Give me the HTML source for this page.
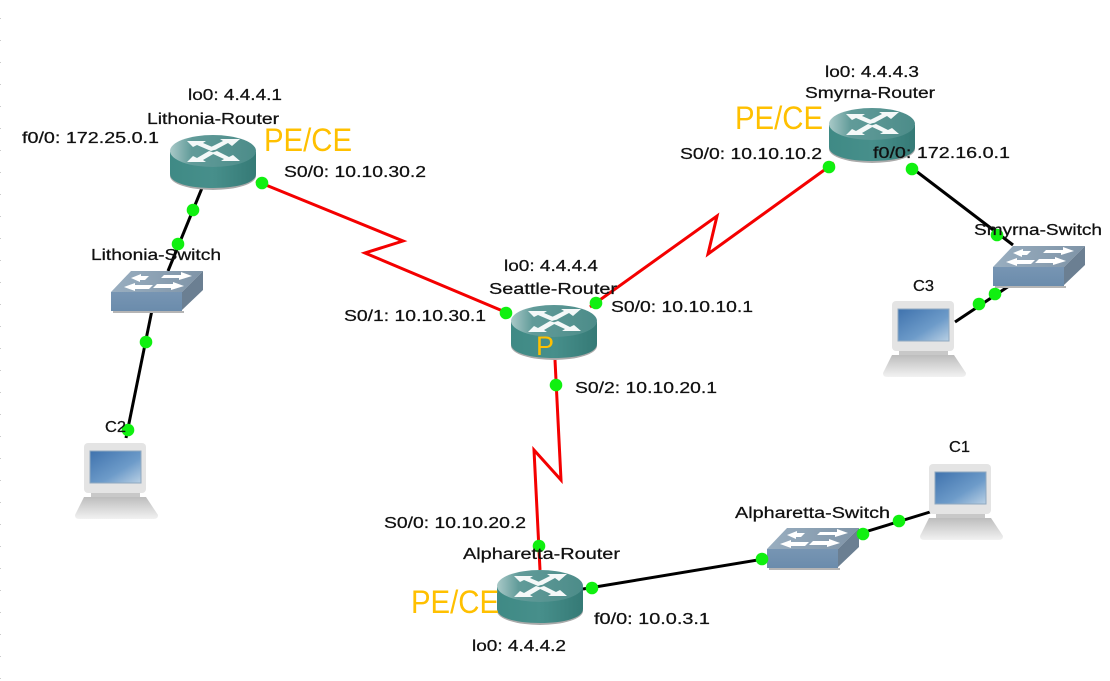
<!DOCTYPE html>
<html>
<head>
<meta charset="utf-8">
<style>
html,body{margin:0;padding:0;background:#fff;width:1110px;height:681px;overflow:hidden}
svg{display:block}
text{font-family:"Liberation Sans",sans-serif;font-size:15.5px;fill:#111;stroke:#111;stroke-width:.25px}
.o{font-size:32px;fill:#ffc000;stroke:none}
.p{font-size:27px;fill:#ffc000;stroke:none}
</style>
</head>
<body>
<svg width="1110" height="681" viewBox="0 0 1110 681" xmlns="http://www.w3.org/2000/svg">
<defs>
<linearGradient id="rs" x1="0" x2="1" y1="0" y2="0"><stop offset="0" stop-color="#3f8a85"/><stop offset=".5" stop-color="#478f8b"/><stop offset="1" stop-color="#357a76"/></linearGradient>
<linearGradient id="rt" x1="0" x2="1" y1="0" y2="0"><stop offset="0" stop-color="#a9c9c8"/><stop offset=".25" stop-color="#619b99"/><stop offset="1" stop-color="#4c8c89"/></linearGradient>
<linearGradient id="sf" x1="0" x2="0" y1="0" y2="1"><stop offset="0" stop-color="#7795b3"/><stop offset="1" stop-color="#6b8cac"/></linearGradient>
<linearGradient id="st" x1="0" x2="1" y1="0" y2="0"><stop offset="0" stop-color="#99aec0"/><stop offset="1" stop-color="#7f94a7"/></linearGradient>
<linearGradient id="sc" x1="0" x2="1" y1="0" y2="1"><stop offset="0" stop-color="#3f72ad"/><stop offset=".6" stop-color="#6d9bc9"/><stop offset="1" stop-color="#b9d0e4"/></linearGradient>
<linearGradient id="kb" x1="0" x2="0" y1="0" y2="1"><stop offset="0" stop-color="#bdbdbd"/><stop offset="1" stop-color="#f2f2f2"/></linearGradient>
<g id="router">
<ellipse cx="43" cy="41" rx="43" ry="14" fill="#aaa"/>
<path d="M0 17V39C0 48 19 53 43 53S86 48 86 39V17Z" fill="url(#rs)"/>
<ellipse cx="43" cy="16" rx="43" ry="16" fill="url(#rt)"/>
<g fill="#f4f8f8">
<path d="M17 6 36 6 33 8 47 14 41 16 27 10 23 12Z"/>
<path d="M70 4 50 4 53 6 39 13 45 15 58 8 62 11Z"/>
<path d="M17 27 36 27 33 25 45 18 39 16 27 23 23 21Z"/>
<path d="M70 26 51 26 54 24 41 18 47 16 59 22 63 20Z"/>
</g>
</g>
<g id="switch">
<path d="M2 41H73V43H2Z" fill="#b5b5b5"/>
<path d="M0 22 20 1H92L71 22Z" fill="url(#st)"/>
<path d="M71 22 92 1V20L71 40Z" fill="#6b7f92"/>
<rect x="0" y="22" width="71" height="19" fill="url(#sf)"/>
<g fill="#fff">
<path d="M20 8 30 4V6H38L34 10H29V12Z"/>
<path d="M53 5H70V2L81 6 68 10V8H50Z"/>
<path d="M13 17 24 13V15H42L38 19H24V21Z"/>
<path d="M46 14H62V12L73 16 60 20V18H42Z"/>
</g>
</g>
<g id="pc">
<rect x="9" y="0" width="62" height="50" rx="4" fill="#e4e4e4"/>
<rect x="15" y="8" width="51" height="32" fill="url(#sc)" stroke="#8fa9c0"/>
<rect x="16" y="50" width="49" height="5" fill="#c8c8c8"/>
<path d="M9 54H71L83 72Q83 76 79 76H4Q0 76 0 72Z" fill="url(#kb)"/>
</g>
</defs>

<!-- black links -->
<g stroke="#000" stroke-width="3" fill="none">
<path d="M202 188 168 271"/>
<path d="M152 310 126 438"/>
<path d="M912 168 1013 245"/>
<path d="M1012 284 955 322"/>
<path d="M583 589 770 558"/>
<path d="M855 535 930 512"/>
</g>
<!-- red links -->
<g stroke="#f40000" stroke-width="3" fill="none" stroke-linejoin="miter">
<path d="M256 181 403 241 365 253 510 314"/>
<path d="M590 307 717 216 708 254 834 163"/>
<path d="M555 360 561 480 534 450 540 570"/>
</g>

<use href="#router" x="170" y="135"/>
<use href="#router" x="511" y="305"/>
<use href="#router" x="829" y="108"/>
<use href="#router" x="497" y="570"/>
<use href="#switch" x="111" y="270"/>
<use href="#switch" x="993" y="245"/>
<use href="#switch" x="767" y="527"/>
<use href="#pc" x="75" y="443"/>
<use href="#pc" x="883" y="301"/>
<use href="#pc" x="920" y="464"/>

<!-- dots -->
<g fill="#10f010">
<circle cx="262" cy="183" r="6.3"/><circle cx="193" cy="210" r="6.3"/><circle cx="178" cy="244" r="6.3"/>
<circle cx="146" cy="342" r="6.3"/><circle cx="128" cy="430" r="6.3"/>
<circle cx="506" cy="313" r="6.3"/><circle cx="596" cy="303" r="6.3"/><circle cx="556" cy="385" r="6.3"/>
<circle cx="829" cy="167" r="6.3"/><circle cx="912" cy="169" r="6.3"/><circle cx="997" cy="235" r="6.3"/>
<circle cx="995" cy="294" r="6.3"/><circle cx="979" cy="304" r="6.3"/>
<circle cx="539" cy="546" r="6.3"/><circle cx="592" cy="588" r="6.3"/>
<circle cx="762" cy="559" r="6.3"/><circle cx="863" cy="534" r="6.3"/><circle cx="899" cy="521" r="6.3"/>
</g>

<!-- labels -->
<text x="188" y="100" textLength="94" lengthAdjust="spacingAndGlyphs">lo0: 4.4.4.1</text>
<text x="147" y="124" textLength="132" lengthAdjust="spacingAndGlyphs">Lithonia-Router</text>
<text x="22" y="143" textLength="137" lengthAdjust="spacingAndGlyphs">f0/0: 172.25.0.1</text>
<text x="284" y="177" textLength="142" lengthAdjust="spacingAndGlyphs">S0/0: 10.10.30.2</text>
<text x="91" y="260" textLength="130" lengthAdjust="spacingAndGlyphs">Lithonia-Switch</text>
<text x="105" y="432" textLength="21" lengthAdjust="spacingAndGlyphs">C2</text>
<text x="825" y="77" textLength="94" lengthAdjust="spacingAndGlyphs">lo0: 4.4.4.3</text>
<text x="805" y="98" textLength="130" lengthAdjust="spacingAndGlyphs">Smyrna-Router</text>
<text x="680" y="159" textLength="142" lengthAdjust="spacingAndGlyphs">S0/0: 10.10.10.2</text>
<text x="873" y="158" textLength="137" lengthAdjust="spacingAndGlyphs">f0/0: 172.16.0.1</text>
<text x="974" y="235" textLength="128" lengthAdjust="spacingAndGlyphs">Smyrna-Switch</text>
<text x="913" y="291" textLength="21" lengthAdjust="spacingAndGlyphs">C3</text>
<text x="504" y="271" textLength="94" lengthAdjust="spacingAndGlyphs">lo0: 4.4.4.4</text>
<text x="489" y="294" textLength="128" lengthAdjust="spacingAndGlyphs">Seattle-Router</text>
<text x="611" y="312" textLength="142" lengthAdjust="spacingAndGlyphs">S0/0: 10.10.10.1</text>
<text x="344" y="321" textLength="142" lengthAdjust="spacingAndGlyphs">S0/1: 10.10.30.1</text>
<text x="575" y="393" textLength="142" lengthAdjust="spacingAndGlyphs">S0/2: 10.10.20.1</text>
<text x="949" y="452" textLength="21" lengthAdjust="spacingAndGlyphs">C1</text>
<text x="735" y="518" textLength="155" lengthAdjust="spacingAndGlyphs">Alpharetta-Switch</text>
<text x="384" y="528" textLength="142" lengthAdjust="spacingAndGlyphs">S0/0: 10.10.20.2</text>
<text x="463" y="559" textLength="157" lengthAdjust="spacingAndGlyphs">Alpharetta-Router</text>
<text x="594" y="624" textLength="116" lengthAdjust="spacingAndGlyphs">f0/0: 10.0.3.1</text>
<text x="472" y="651" textLength="94" lengthAdjust="spacingAndGlyphs">lo0: 4.4.4.2</text>

<text class="o" x="264" y="151" textLength="88" lengthAdjust="spacingAndGlyphs">PE/CE</text>
<text class="o" x="735" y="129" textLength="88" lengthAdjust="spacingAndGlyphs">PE/CE</text>
<text class="o" x="411" y="613" textLength="88" lengthAdjust="spacingAndGlyphs">PE/CE</text>
<text class="p" x="536" y="355">P</text>

<!-- faint left-edge ticks -->
<path d="M.5 18V681" stroke="#ccc" stroke-width="1" stroke-dasharray="1 21" fill="none"/>
</svg>
</body>
</html>
